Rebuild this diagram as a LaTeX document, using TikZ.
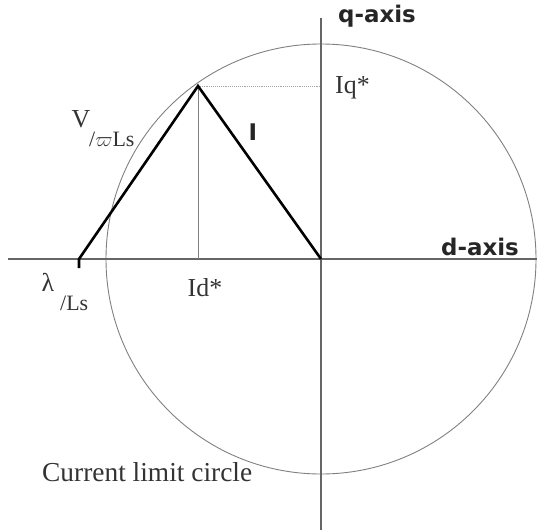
\documentclass[tikz,border=0pt]{standalone}
\usepackage{fontspec}
\setmainfont{Liberation Serif}
\newfontfamily\axisfont{DejaVu Sans}
\usetikzlibrary{positioning}

\begin{document}
\begin{tikzpicture}[
  x=1bp, y=-1bp,
  axis/.style={draw=black!60, line width=1.3bp},
  guide/.style={draw=black!50, line width=0.9bp},
  vector/.style={draw=black, line width=2.6bp},
  limit/.style={draw=black!50, line width=0.9bp},
  axislabel/.style={font=\axisfont\bfseries\fontsize{23}{25}\selectfont, text=black!85, inner sep=0pt},
  serif/.style={font=\fontsize{26}{28}\selectfont, text=black!80, inner sep=0pt},
  small/.style={font=\fontsize{22}{24}\selectfont, text=black!80, inner sep=0pt}
]
\useasboundingbox (0,0) rectangle (538,532);
\def\xOrig{321}
\def\yOrig{259}
\def\xPeak{198}
\def\yPeak{86}
\def\xLambda{79}
\coordinate (orig) at (\xOrig, \yOrig);
\coordinate (peak) at (\xPeak, \yPeak);
\coordinate (lambda) at (\xLambda, \yOrig);
\coordinate (lambdatick) at (\xLambda, 268);
\coordinate (qtop) at (\xOrig, 18);
\coordinate (qbot) at (\xOrig, 530);
\coordinate (dleft) at (8, \yOrig);
\coordinate (dright) at (537, \yOrig);
% current limit circle
\draw[limit] (orig) circle [radius=215bp];
% axes
\draw[axis] (qtop) -- (qbot);
\draw[axis] (dleft) -- (dright);
% projections of the operating point
\draw[guide] (peak) -- (peak |- orig);
\draw[guide, draw=black!35, densely dotted] (peak) -- (peak -| orig);
% vectors
\draw[vector] (lambdatick) -- (lambda) -- (peak) -- (orig);
% labels
\node[axislabel] (qlab) at (377,16) {q-axis};
\node[axislabel] (dlab) at (480,247) {d-axis};
\node[serif, anchor=west] (iqlab) at (335,88) {Iq*};
\node[serif] (idlab) at (\xPeak+7,288) {Id*};
\node[axislabel] (ilab) at (253,132) {I};
\node[serif] (vlab) at (81,119) {V};
\node[small, anchor=west] (vsub) at (89,139) {/\(\varpi\)Ls};
\node[serif] (lamlab) at (48,282) {λ};
\node[small, anchor=west] (lamsub) at (60,303) {/Ls};
\node[serif, anchor=west, font=\fontsize{27.5}{29}\selectfont] (circlab) at (42,472) {Current limit circle};
\end{tikzpicture}
\end{document}
